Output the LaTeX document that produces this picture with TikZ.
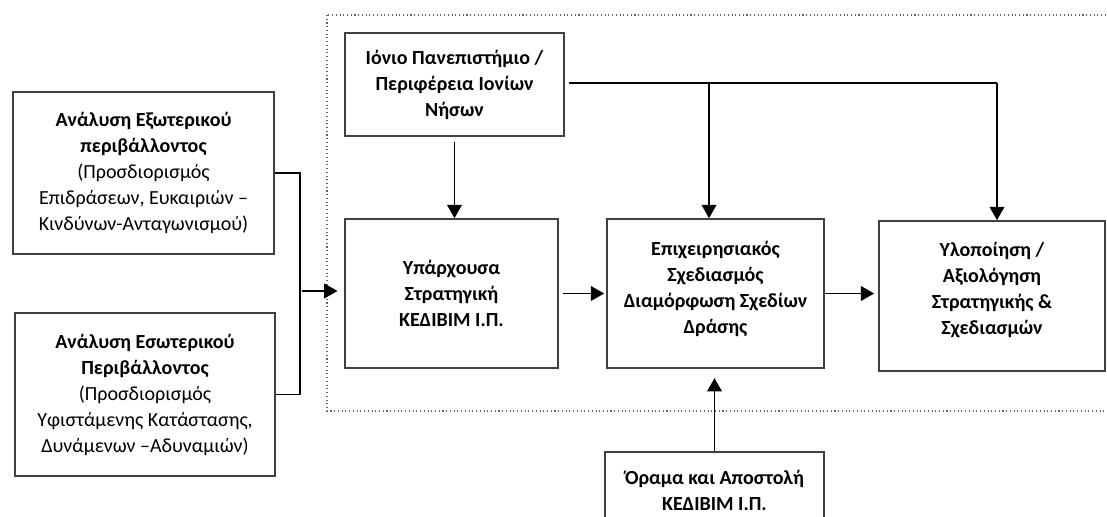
\documentclass[tikz,border=0pt]{standalone}
\usepackage{fontspec}
\setmainfont{Carlito}
\usetikzlibrary{arrows.meta}
\tikzset{
  blk/.style={draw=black!75, line width=1.2pt, align=center, inner sep=2pt,
    font=\fontsize{15}{19.5}\selectfont},
  arr/.style={-{Triangle[length=10pt,width=11pt]}, line width=1.2pt},
  lnk/.style={line width=1.2pt},
}
\begin{document}
\begin{tikzpicture}[x=0.75pt, y=-0.75pt]
\clip (0,0) rectangle (1107,517);
% dotted frame
\draw[black!60, dotted, line width=0.8pt] (327,15) rectangle (1125,411);
% boxes
\node[blk, minimum width=195.75pt, minimum height=121.5pt] (ext) at (143.5,173)
  {\textbf{Ανάλυση Εξωτερικού}\\\textbf{περιβάλλοντος}\\(Προσδιορισμός\\Επιδράσεων, Ευκαιριών –\\Κινδύνων-Ανταγωνισμού)};
\node[blk, minimum width=195pt, minimum height=122.25pt] (intl) at (145,394.5)
  {\textbf{Ανάλυση Εσωτερικού}\\\textbf{Περιβάλλοντος}\\(Προσδιορισμός\\Υφιστάμενης Κατάστασης,\\Δυνάμενων –Αδυναμιών)};
\node[blk, minimum width=164.25pt, minimum height=77.25pt] (iono) at (454.5,84.5)
  {\textbf{Ιόνιο Πανεπιστήμιο /}\\\textbf{Περιφέρεια Ιονίων}\\\textbf{Νήσων}};
\node[blk, minimum width=159.75pt, minimum height=111.75pt] (strat) at (451.5,293.5)
  {\textbf{Υπάρχουσα}\\\textbf{Στρατηγική}\\\textbf{ΚΕΔΙΒΙΜ Ι.Π.}};
\node[blk, minimum width=162.75pt, minimum height=111.75pt] (ops) at (715.5,293.5)
  {\textbf{Επιχειρησιακός}\\\textbf{Σχεδιασμός}\\\textbf{Διαμόρφωση Σχεδίων}\\\textbf{Δράσης}\\[-10pt]};
\node[blk, minimum width=169.5pt, minimum height=112.5pt] (impl) at (992,296)
  {\textbf{Υλοποίηση /}\\\textbf{Αξιολόγηση}\\\textbf{Στρατηγικής \&}\\\textbf{Σχεδιασμών}\\[-8pt]};
\node[blk, minimum width=164.25pt, minimum height=57pt] (vision) at (714.5,490)
  {\textbf{Όραμα και Αποστολή}\\\textbf{ΚΕΔΙΒΙΜ Ι.Π.}};
% connectors
\coordinate (brk) at (302,291);
\coordinate (jn) at (709,83);
\coordinate (top) at (997,83);
\draw[lnk] (ext.east) -- ++(25,0) |- (intl.east);
\draw[arr, shorten >=5pt] (brk) -- (brk -| strat.west);
\draw[arr, shorten <=4pt] (iono.south) -- (iono.south |- strat.north);
\draw[lnk, shorten <=3pt] (iono.east |- top) -- (top);
\draw[arr] (jn) -- (jn |- ops.north);
\draw[arr] (top) -- (top |- impl.north);
\draw[arr, shorten <=3pt, shorten >=1.5pt] (strat.east) -- (ops.west);
\draw[arr, shorten >=3pt] (ops.east) -- (ops.east -| impl.west);
\draw[arr, shorten >=7pt] (vision.north) -- (vision.north |- ops.south);
\end{tikzpicture}
\end{document}
